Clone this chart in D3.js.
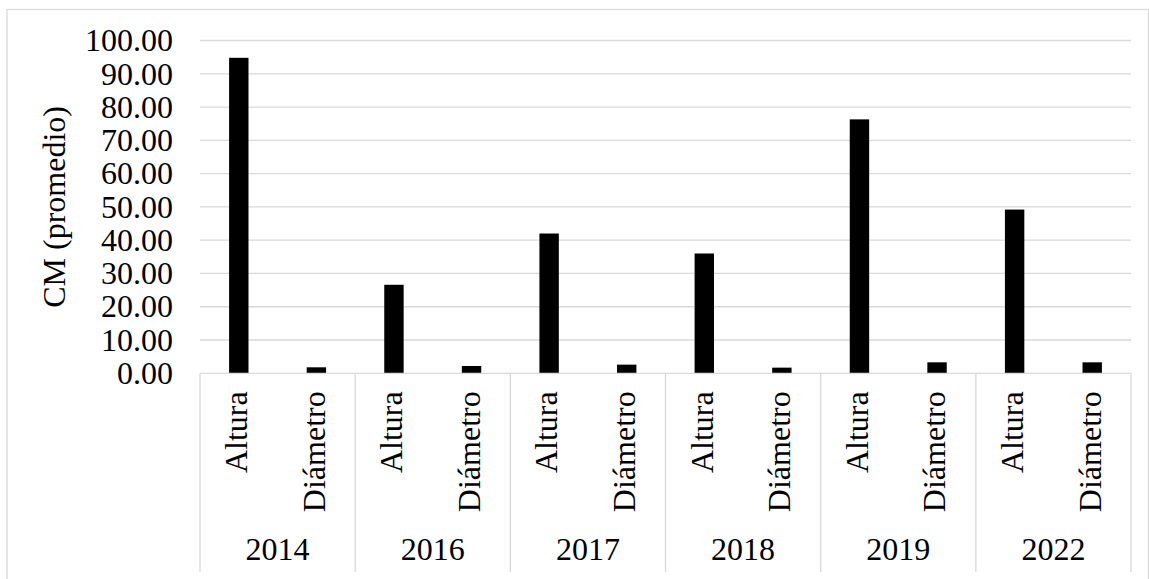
<!DOCTYPE html>
<html>
<head>
<meta charset="utf-8">
<script src="https://cdn.jsdelivr.net/npm/d3@7"></script>
<style>
  body { margin: 0; background: #fff; }
  svg text { font-family: "Liberation Serif", "Times New Roman", serif; fill: #000; }
</style>
</head>
<body>
<svg width="1149" height="579"></svg>
<script>
const years = ["2014", "2016", "2017", "2018", "2019", "2022"];
const measures = ["Altura", "Diámetro"];
const altura = [94.8, 26.6, 42.0, 36.0, 76.3, 49.2];
const diametro = [1.8, 2.2, 2.6, 1.7, 3.3, 3.3];
const yTicks = [0, 10, 20, 30, 40, 50, 60, 70, 80, 90, 100];

const width = 1149;
const height = 579;
const margin = { left: 200, right: 18, top: 40.5, bottom: 205.7 };
const grey = "#d9d9d9";
const fs = 32;

const svg = d3.select("svg");

// chart border
svg.append("rect")
  .attr("x", 7).attr("y", 9.5)
  .attr("width", width - 7.5).attr("height", height)
  .attr("fill", "none").attr("stroke", grey).attr("stroke-width", 1.3);

const x0 = d3.scaleBand()
  .domain(years)
  .range([margin.left, width - margin.right]);

const x1 = d3.scaleBand()
  .domain(measures)
  .range([0, x0.bandwidth()]);

const yScale = d3.scaleLinear()
  .domain([0, 100])
  .range([height - margin.bottom, margin.top]);

const rows = [];
years.forEach((yr, i) => {
  rows.push({ year: yr, m: "Altura", v: altura[i] });
  rows.push({ year: yr, m: "Diámetro", v: diametro[i] });
});

// gridlines
svg.append("g")
  .selectAll("line")
  .data(yTicks.filter((d) => d > 0))
  .join("line")
  .attr("x1", margin.left)
  .attr("x2", width - margin.right)
  .attr("y1", (d) => yScale(d))
  .attr("y2", (d) => yScale(d))
  .attr("stroke", grey)
  .attr("stroke-width", 1.3);

// y axis labels
const yAxis = svg.append("g")
  .attr("transform", `translate(${margin.left - 27}, 0)`)
  .call(d3.axisLeft(yScale).tickValues(yTicks).tickFormat(d3.format(".2f")).tickSize(0).tickPadding(0));
yAxis.select(".domain").remove();
yAxis.selectAll("text")
  .attr("font-family", "Liberation Serif")
  .attr("font-size", fs)
  .attr("fill", "#000");

svg.append("text")
  .attr("transform", `translate(58, ${(yScale(0) + yScale(100)) / 2}) rotate(-90)`)
  .attr("text-anchor", "middle")
  .attr("dominant-baseline", "middle")
  .attr("font-size", fs)
  .text("CM (promedio)");

// bars
const barW = x1.bandwidth() * 0.25;
svg.append("g")
  .selectAll("rect")
  .data(rows)
  .join("rect")
  .attr("x", (d) => x0(d.year) + x1(d.m) + (x1.bandwidth() - barW) / 2)
  .attr("y", (d) => yScale(d.v))
  .attr("width", barW)
  .attr("height", (d) => yScale(0) - yScale(d.v))
  .attr("fill", "#000");

// category axis
const axisY = yScale(0);
const axisG = svg.append("g");
axisG.append("line")
  .attr("x1", margin.left).attr("x2", width - margin.right)
  .attr("y1", axisY).attr("y2", axisY)
  .attr("stroke", grey).attr("stroke-width", 1.3);

const seps = years.map((yr) => x0(yr)).concat([width - margin.right]);
axisG.selectAll(".sep")
  .data(seps)
  .join("line")
  .attr("class", "sep")
  .attr("x1", (d) => d).attr("x2", (d) => d)
  .attr("y1", axisY).attr("y2", 572)
  .attr("stroke", grey).attr("stroke-width", 1.3);

axisG.selectAll(".mlabel")
  .data(rows)
  .join("text")
  .attr("class", "mlabel")
  .attr("transform", (d) => `translate(${x0(d.year) + x1(d.m) + x1.bandwidth() / 2 + 1}, ${axisY + 18}) rotate(-90)`)
  .attr("text-anchor", "end")
  .attr("dominant-baseline", "middle")
  .attr("font-size", fs)
  .text((d) => d.m);

axisG.selectAll(".ylabel")
  .data(years)
  .join("text")
  .attr("class", "ylabel")
  .attr("x", (d) => x0(d) + x0.bandwidth() / 2)
  .attr("y", 553)
  .attr("text-anchor", "middle")
  .attr("dominant-baseline", "middle")
  .attr("font-size", fs)
  .text((d) => d);
</script>
</body>
</html>
